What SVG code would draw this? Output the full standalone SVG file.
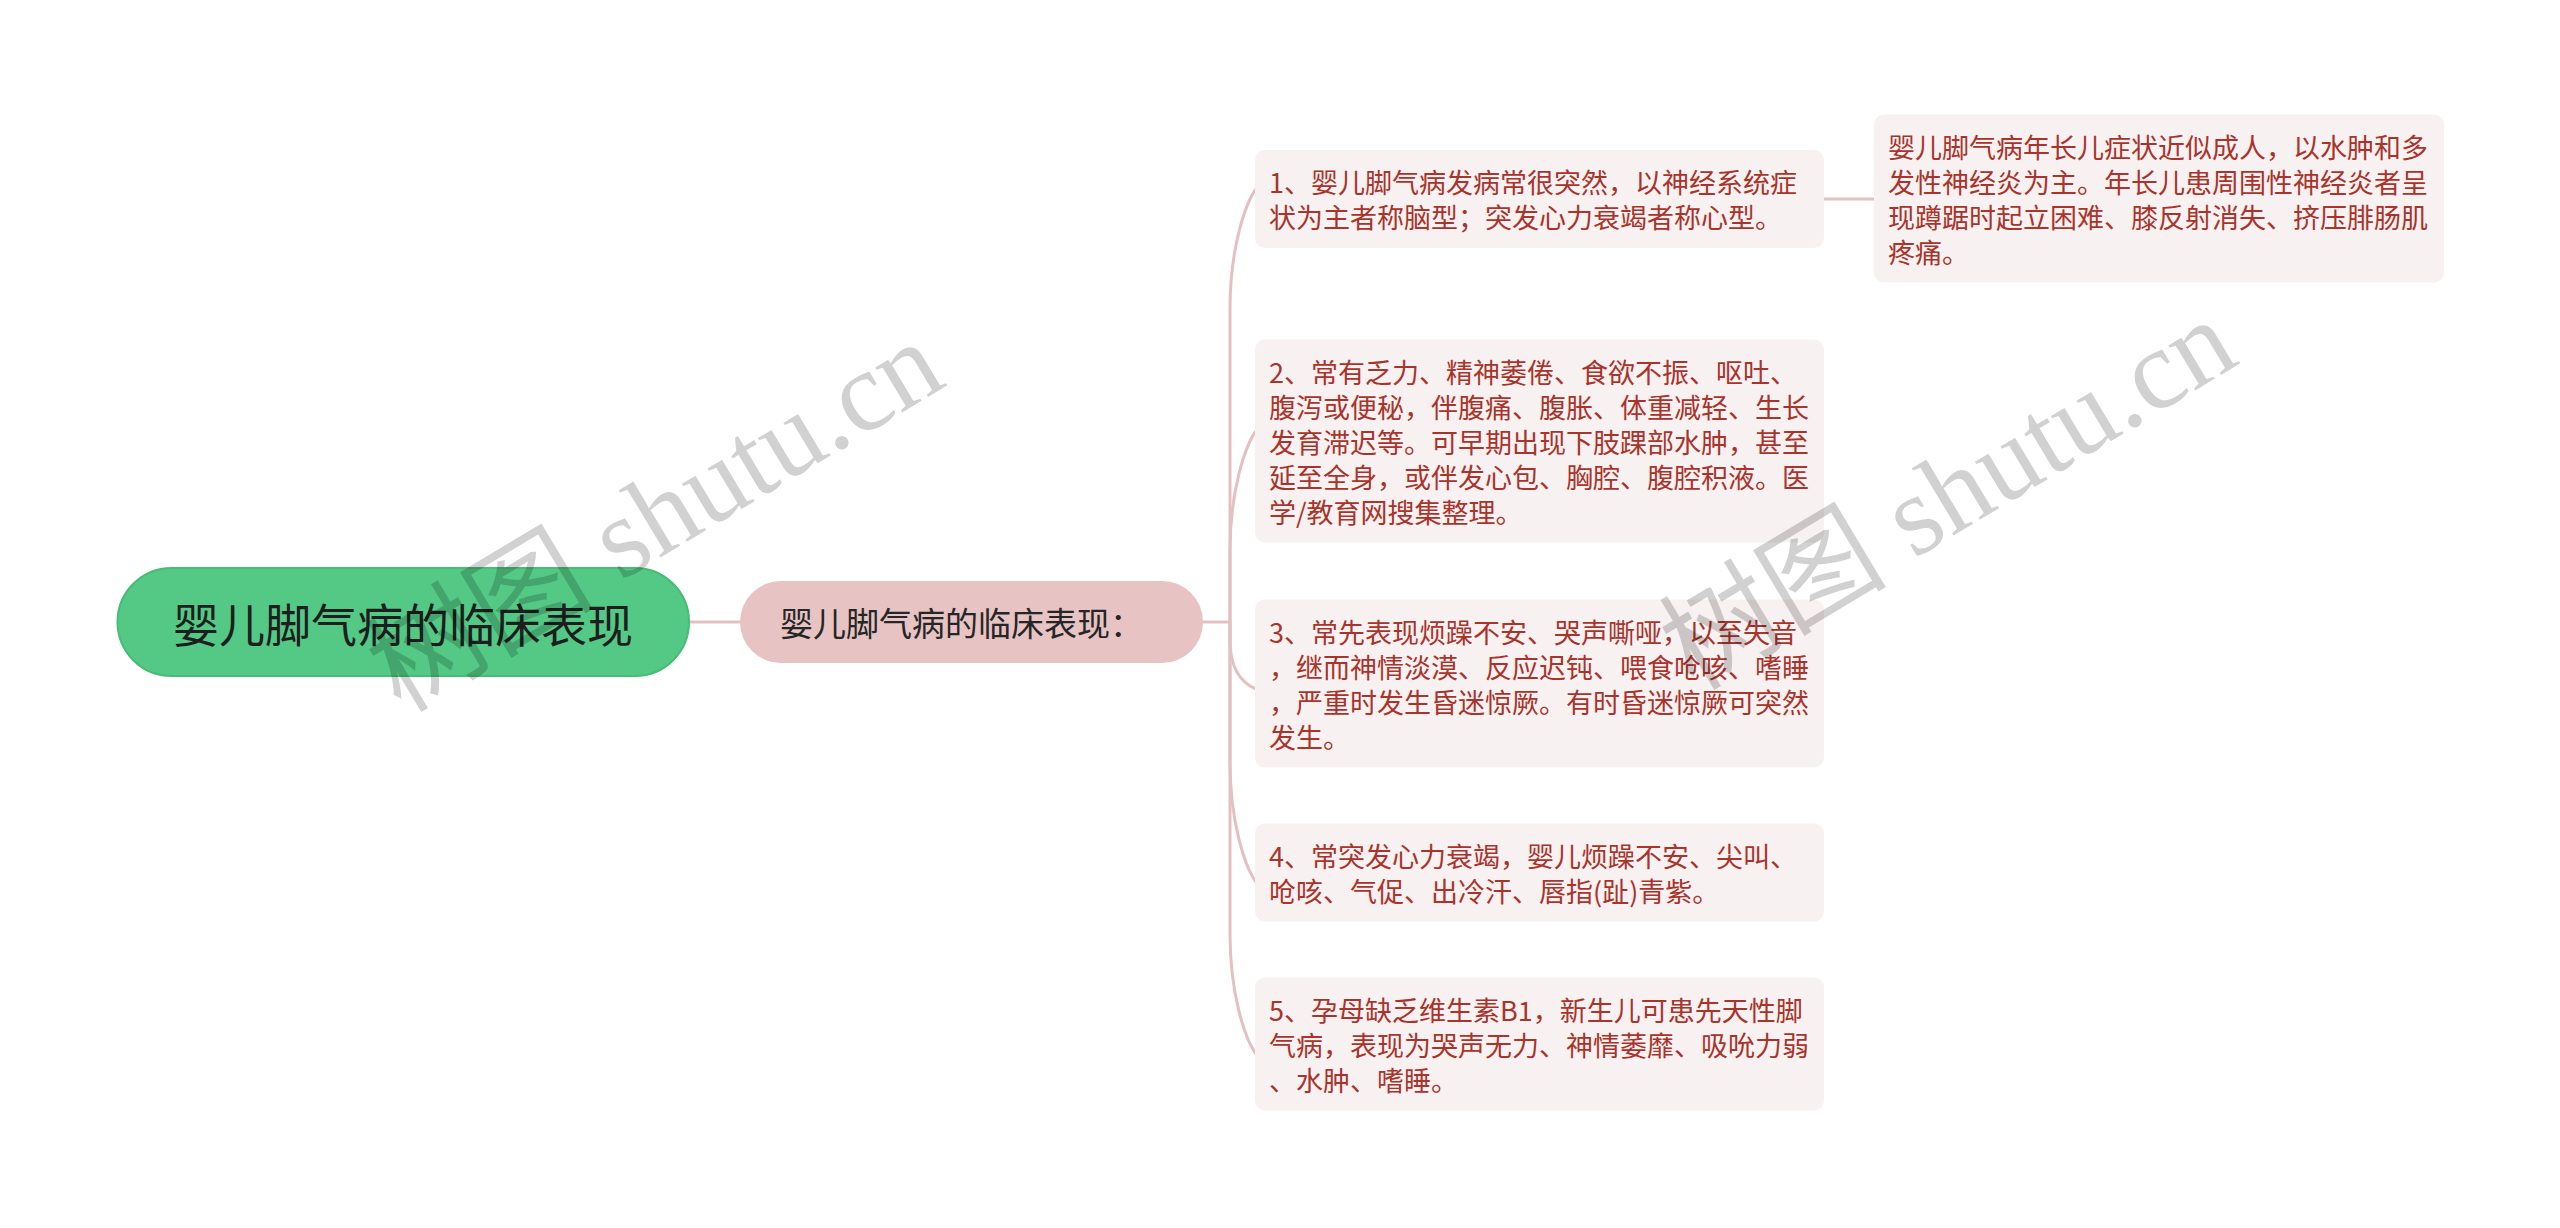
<svg xmlns="http://www.w3.org/2000/svg" width="2560" height="1228" viewBox="0 0 2560 1228">
<style>
  .conn{fill:none;stroke:#e3c1c1;stroke-width:3;stroke-linecap:round}
  .box{fill:#f8f1f1}
  .t{font-family:"Noto Sans CJK SC","Noto Sans",sans-serif;font-size:27px;fill:#a8342c;dominant-baseline:central}
  .wm{font-family:"Liberation Serif","Noto Sans CJK SC",serif;font-size:114px;fill:#000;fill-opacity:0.18}
</style>
<rect width="2560" height="1228" fill="#ffffff"/>
<g id="connectors">
  <path class="conn" d="M689 622 L740 622"/>
  <path class="conn" d="M1203 622 L1230 622"/>
  <path class="conn" d="M1230 622 L1230 309 C1230 249 1245 204 1256 189"/>
  <path class="conn" d="M1230 622 L1230 551 C1230 491 1245 446 1256 431"/>
  <path class="conn" d="M1230 622 L1230 640 C1230 672 1244 684 1256 689"/>
  <path class="conn" d="M1230 622 L1230 762 C1230 822 1245 867 1256 882"/>
  <path class="conn" d="M1230 622 L1230 934 C1230 994 1245 1039 1256 1054"/>
  <path class="conn" d="M1824 199 L1874 199"/>
</g>
<g id="root">
  <rect x="117.5" y="568" width="571.5" height="108" rx="54" fill="#53c985" stroke="#48bb77" stroke-width="2"/>
  <text x="403" y="622" text-anchor="middle" style="font-family:'Noto Sans CJK SC','Noto Sans',sans-serif;font-size:46px;fill:#1e1e1e;dominant-baseline:central">婴儿脚气病的临床表现</text>
</g>
<g id="sub">
  <rect x="740" y="581" width="463" height="82" rx="41" fill="#e7c3c3"/>
  <text x="780" y="622" style="font-family:'Noto Sans CJK SC','Noto Sans',sans-serif;font-size:33px;fill:#262626;dominant-baseline:central">婴儿脚气病的临床表现：</text>
</g>
<g id="item1">
  <rect class="box" x="1255" y="150" width="569" height="98" rx="10"/>
  <text class="t" x="1269" y="181.5">1、婴儿脚气病发病常很突然，以神经系统症</text>
  <text class="t" x="1269" y="216.5">状为主者称脑型；突发心力衰竭者称心型。</text>
</g>
<g id="item1a">
  <rect class="box" x="1874" y="114.5" width="570" height="168" rx="10"/>
  <text class="t" x="1888" y="146">婴儿脚气病年长儿症状近似成人，以水肿和多</text>
  <text class="t" x="1888" y="181">发性神经炎为主。年长儿患周围性神经炎者呈</text>
  <text class="t" x="1888" y="216">现蹲踞时起立困难、膝反射消失、挤压腓肠肌</text>
  <text class="t" x="1888" y="251">疼痛。</text>
</g>
<g id="item2">
  <rect class="box" x="1255" y="339.5" width="569" height="203" rx="10"/>
  <text class="t" x="1269" y="371">2、常有乏力、精神萎倦、食欲不振、呕吐、</text>
  <text class="t" x="1269" y="406">腹泻或便秘，伴腹痛、腹胀、体重减轻、生长</text>
  <text class="t" x="1269" y="441">发育滞迟等。可早期出现下肢踝部水肿，甚至</text>
  <text class="t" x="1269" y="476">延至全身，或伴发心包、胸腔、腹腔积液。医</text>
  <text class="t" x="1269" y="511">学/教育网搜集整理。</text>
</g>
<g id="item3">
  <rect class="box" x="1255" y="599.5" width="569" height="168" rx="10"/>
  <text class="t" x="1269" y="631">3、常先表现烦躁不安、哭声嘶哑，以至失音</text>
  <text class="t" x="1269" y="666">，继而神情淡漠、反应迟钝、喂食呛咳、嗜睡</text>
  <text class="t" x="1269" y="701">，严重时发生昏迷惊厥。有时昏迷惊厥可突然</text>
  <text class="t" x="1269" y="736">发生。</text>
</g>
<g id="item4">
  <rect class="box" x="1255" y="823.5" width="569" height="98" rx="10"/>
  <text class="t" x="1269" y="855">4、常突发心力衰竭，婴儿烦躁不安、尖叫、</text>
  <text class="t" x="1269" y="890">呛咳、气促、出冷汗、唇指(趾)青紫。</text>
</g>
<g id="item5">
  <rect class="box" x="1255" y="977.5" width="569" height="133" rx="10"/>
  <text class="t" x="1269" y="1009">5、孕母缺乏维生素B1，新生儿可患先天性脚</text>
  <text class="t" x="1269" y="1044">气病，表现为哭声无力、神情萎靡、吸吮力弱</text>
  <text class="t" x="1269" y="1079">、水肿、嗜睡。</text>
</g>
<g id="watermark">
  <text class="wm" transform="translate(655 516) rotate(-31)" text-anchor="middle" dominant-baseline="central">树图 shutu.cn</text>
  <text class="wm" transform="translate(1948 494) rotate(-31)" text-anchor="middle" dominant-baseline="central">树图 shutu.cn</text>
</g>
</svg>
